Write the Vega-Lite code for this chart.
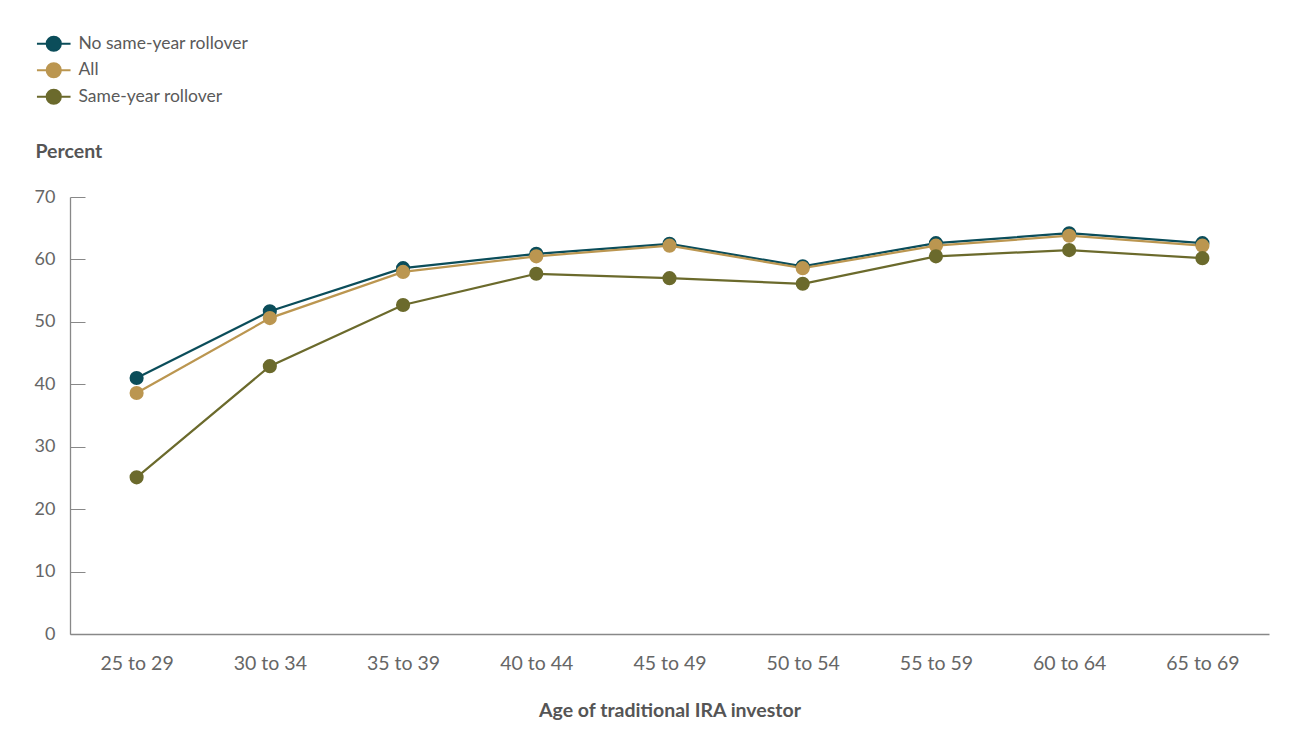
{
  "$schema": "https://vega.github.io/schema/vega-lite/v6.json",
  "autosize": "none",
  "width": 1199,
  "height": 437,
  "padding": {"left": 70, "top": 197, "right": 32, "bottom": 113},
  "background": "white",
  "config": {
    "font": "Lato",
    "view": {"stroke": null},
    "axis": {"grid": false, "domainColor": "#888", "domainWidth": 1.3, "tickColor": "#888", "labelColor": "#666", "titleColor": "#555", "labelFont": "Lato", "titleFont": "Lato"}
  },
  "data": {
    "values": [
      {"age": "25 to 29", "series": "No same-year rollover", "value": 41.0},
      {"age": "30 to 34", "series": "No same-year rollover", "value": 51.7},
      {"age": "35 to 39", "series": "No same-year rollover", "value": 58.6},
      {"age": "40 to 44", "series": "No same-year rollover", "value": 60.9},
      {"age": "45 to 49", "series": "No same-year rollover", "value": 62.5},
      {"age": "50 to 54", "series": "No same-year rollover", "value": 58.9},
      {"age": "55 to 59", "series": "No same-year rollover", "value": 62.6},
      {"age": "60 to 64", "series": "No same-year rollover", "value": 64.2},
      {"age": "65 to 69", "series": "No same-year rollover", "value": 62.6},
      {"age": "25 to 29", "series": "All", "value": 38.6},
      {"age": "30 to 34", "series": "All", "value": 50.6},
      {"age": "35 to 39", "series": "All", "value": 58.0},
      {"age": "40 to 44", "series": "All", "value": 60.5},
      {"age": "45 to 49", "series": "All", "value": 62.2},
      {"age": "50 to 54", "series": "All", "value": 58.6},
      {"age": "55 to 59", "series": "All", "value": 62.2},
      {"age": "60 to 64", "series": "All", "value": 63.8},
      {"age": "65 to 69", "series": "All", "value": 62.2},
      {"age": "25 to 29", "series": "Same-year rollover", "value": 25.1},
      {"age": "30 to 34", "series": "Same-year rollover", "value": 42.9},
      {"age": "35 to 39", "series": "Same-year rollover", "value": 52.7},
      {"age": "40 to 44", "series": "Same-year rollover", "value": 57.7},
      {"age": "45 to 49", "series": "Same-year rollover", "value": 57.0},
      {"age": "50 to 54", "series": "Same-year rollover", "value": 56.1},
      {"age": "55 to 59", "series": "Same-year rollover", "value": 60.5},
      {"age": "60 to 64", "series": "Same-year rollover", "value": 61.5},
      {"age": "65 to 69", "series": "Same-year rollover", "value": 60.2}
    ]
  },
  "mark": {"type": "line", "strokeWidth": 2.2, "point": {"filled": true, "size": 200, "opacity": 1}},
  "encoding": {
    "x": {
      "field": "age", "type": "ordinal", "sort": null,
      "scale": {"type": "point", "padding": 0.5},
      "axis": {"title": "Age of traditional IRA investor", "labelAngle": 0, "ticks": false, "labelPadding": 20, "labelFontSize": 19.5, "titleFontSize": 19.5, "titleFontWeight": "bold", "titlePadding": 29}
    },
    "y": {
      "field": "value", "type": "quantitative",
      "scale": {"domain": [0, 70], "nice": false},
      "axis": {"title": "Percent", "values": [0, 10, 20, 30, 40, 50, 60, 70], "tickSize": -15, "labelPadding": 30, "labelFontSize": 18, "titleFontSize": 19.5, "titleFontWeight": "bold", "titleAngle": 0, "titleAlign": "left", "titleBaseline": "middle", "titleX": -35, "titleY": -46}
    },
    "color": {
      "field": "series", "type": "nominal", "sort": ["No same-year rollover", "All", "Same-year rollover"],
      "scale": {"domain": ["No same-year rollover", "All", "Same-year rollover"], "range": ["#0b4d5a", "#bb9650", "#6b6a2c"]},
      "legend": {
        "title": null, "orient": "none", "legendX": -25, "legendY": -162, "padding": 0,
        "symbolType": "M-2.4,0L-1,0M1,0L2.4,0M-1,0A1,1 0 1,0 1,0A1,1 0 1,0 -1,0Z",
        "symbolSize": 196, "symbolStrokeWidth": 2.2, "labelOffset": 16, "labelFontSize": 17.5, "labelColor": "#5a5a5a", "rowPadding": 2.5, "labelFont": "Lato", "labelLimit": 400,
        "encode": {"symbols": {"update": {"fill": {"scale": "color", "field": "value"}, "stroke": {"scale": "color", "field": "value"}, "opacity": {"value": 1}}}}
      }
    }
  }
}
